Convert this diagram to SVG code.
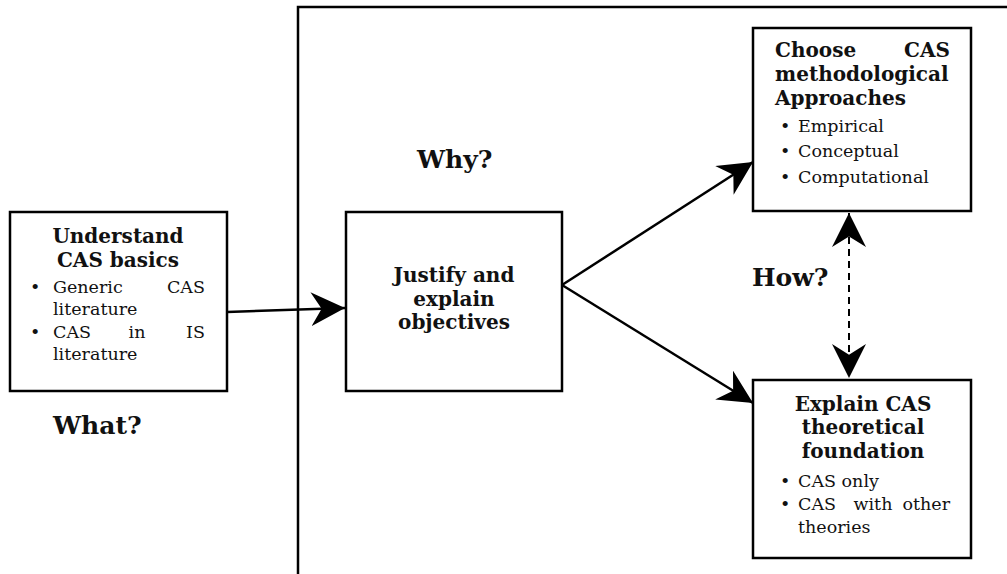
<svg xmlns="http://www.w3.org/2000/svg" width="1007" height="574" viewBox="0 0 1007 574">
<style>
.box{fill:#fff;stroke:#000;stroke-width:2.5}
.frame{fill:none;stroke:#000;stroke-width:2.5}
.h{font-family:"DejaVu Serif","Liberation Serif",serif;font-weight:bold;font-size:20px;fill:#111}
.t{font-family:"DejaVu Serif","Liberation Serif",serif;font-size:17.5px;fill:#111}
.q{font-family:"DejaVu Serif","Liberation Serif",serif;font-weight:bold;font-size:25px;fill:#111}
.c{stroke:#000;stroke-width:2.5;fill:none}
.d{stroke:#000;stroke-width:2;fill:none;stroke-dasharray:7 5}
</style>
<defs>
<marker id="ah" markerUnits="userSpaceOnUse" markerWidth="34" markerHeight="34" viewBox="0 0 32 32" refX="32" refY="16" orient="auto-start-reverse">
<path d="M0,0 L32,16 L0,32 L10,16 z" fill="#000"/>
</marker>
</defs>
<rect x="0" y="0" width="1007" height="574" fill="#fff"/>
<path class="frame" d="M298,574 L298,7 L1007,7"/>
<g id="understand">
<rect class="box" x="10" y="212" width="217" height="179"/>
<text class="h" x="118" y="243" text-anchor="middle">Understand</text>
<text class="h" x="118" y="267" text-anchor="middle">CAS basics</text>
<text class="t" x="30" y="293">•</text>
<text class="t" x="53" y="293">Generic</text>
<text class="t" x="205" y="293" text-anchor="end">CAS</text>
<text class="t" x="53" y="315">literature</text>
<text class="t" x="30" y="338">•</text>
<text class="t" x="53" y="338">CAS</text>
<text class="t" x="137" y="338" text-anchor="middle">in</text>
<text class="t" x="205" y="338" text-anchor="end">IS</text>
<text class="t" x="53" y="360">literature</text>
</g>
<g id="what"><text class="q" x="53" y="434">What?</text></g>
<g id="why"><text class="q" x="417" y="168">Why?</text></g>
<g id="how"><text class="q" x="752" y="286">How?</text></g>
<g id="justify">
<rect class="box" x="346" y="212" width="216" height="179"/>
<text class="h" x="454" y="282" text-anchor="middle">Justify and</text>
<text class="h" x="454" y="306" text-anchor="middle">explain</text>
<text class="h" x="454" y="329" text-anchor="middle">objectives</text>
</g>
<g id="choose">
<rect class="box" x="753" y="28" width="218" height="183"/>
<text class="h" x="775" y="57">Choose</text>
<text class="h" x="950" y="57" text-anchor="end">CAS</text>
<text class="h" x="775" y="81">methodological</text>
<text class="h" x="775" y="105">Approaches</text>
<text class="t" x="780" y="132">•</text>
<text class="t" x="798" y="132">Empirical</text>
<text class="t" x="780" y="157">•</text>
<text class="t" x="798" y="157">Conceptual</text>
<text class="t" x="780" y="183">•</text>
<text class="t" x="798" y="183">Computational</text>
</g>
<g id="explain">
<rect class="box" x="753" y="380" width="218" height="178"/>
<text class="h" x="863" y="411" text-anchor="middle">Explain CAS</text>
<text class="h" x="863" y="434" text-anchor="middle">theoretical</text>
<text class="h" x="863" y="458" text-anchor="middle">foundation</text>
<text class="t" x="780" y="487">•</text>
<text class="t" x="798" y="487">CAS only</text>
<text class="t" x="780" y="510">•</text>
<text class="t" x="798" y="510">CAS</text>
<text class="t" x="873" y="510" text-anchor="middle">with</text>
<text class="t" x="950" y="510" text-anchor="end">other</text>
<text class="t" x="798" y="533">theories</text>
</g>
<g id="connectors">
<line class="c" x1="227" y1="312" x2="345" y2="308" marker-end="url(#ah)"/>
<line class="c" x1="562" y1="285" x2="753" y2="162" marker-end="url(#ah)"/>
<line class="c" x1="562" y1="285" x2="753" y2="403" marker-end="url(#ah)"/>
<line class="d" x1="849" y1="213" x2="849" y2="378" marker-start="url(#ah)" marker-end="url(#ah)"/>
</g>
</svg>
